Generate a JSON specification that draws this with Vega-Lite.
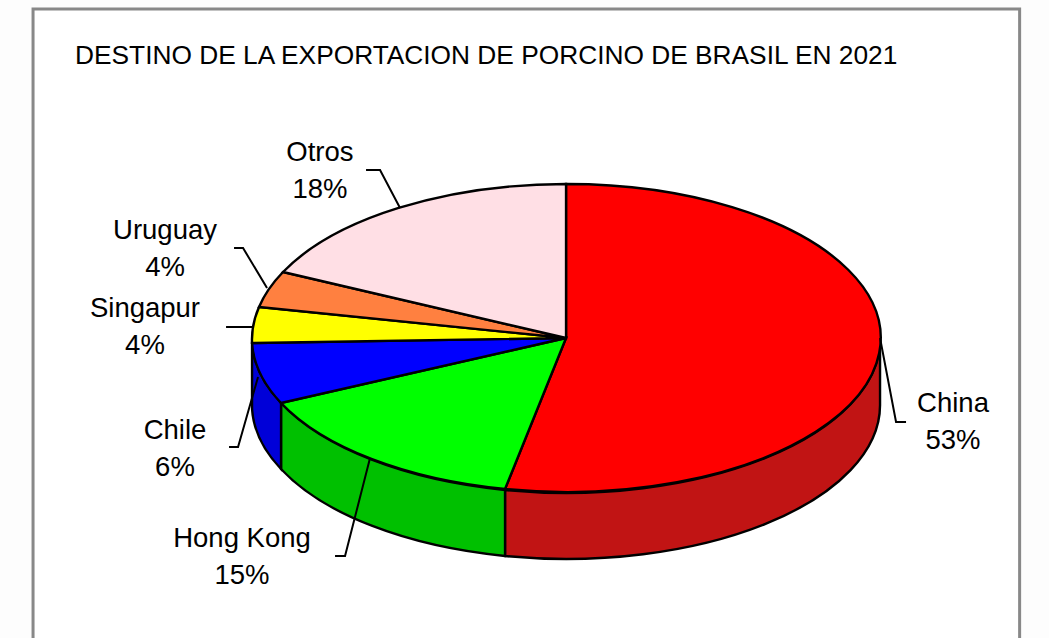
{
"$schema":"https://vega.github.io/schema/vega-lite/v6.json",
"width":1049,"height":638,"autosize":{"type":"none"},"padding":0,
"background":"#fdfdfd",
"config":{"view":{"stroke":null},"axis":{"disable":true},"text":{"font":"Liberation Sans"}},
"data":{"values":[
{"pais":"China","share":53},
{"pais":"Hong Kong","share":15},
{"pais":"Chile","share":6},
{"pais":"Singapur","share":4},
{"pais":"Uruguay","share":4},
{"pais":"Otros","share":18}
]},
"transform":[{"calculate":"datum.pais+'\\n'+datum.share+'%'","as":"etiqueta"}],
"resolve":{"scale":{"shape":"independent","color":"independent"}},
"layer":[
{"transform":[{"filter":"datum.pais==='China'"}],
 "mark":{"type":"rect","fill":"white","stroke":"#888888","strokeWidth":3},
 "encoding":{"x":{"datum":3.15,"type":"quantitative","scale":{"domain":[0,100],"nice":false,"zero":false}},"x2":{"datum":97.2},"y":{"datum":98.6,"type":"quantitative","scale":{"domain":[0,100],"nice":false,"zero":false}},"y2":{"datum":-5}}},
{"transform":[{"filter":"datum.pais==='China'||datum.pais==='Hong Kong'||datum.pais==='Chile'"}],
 "mark":{"type":"point","filled":true,"opacity":1,"stroke":"black","strokeWidth":2.4,"size":4},
 "encoding":{"x":{"datum":53.96,"type":"quantitative"},"y":{"datum":47.02,"type":"quantitative"},
  "color":{"field":"pais","type":"nominal","legend":null,"scale":{"domain":["China","Hong Kong","Chile"],"range":["#c11414","#00c000","#0000d8"]}},
  "shape":{"field":"pais","type":"nominal","legend":null,"scale":{"domain":["China","Hong Kong","Chile"],"range":[
   "M314,0 L314,66 A314,154 0 0 1 -61,218 L-61,152 A314,154 0 0 0 314,0 Z",
   "M-61,152 L-61,218 A314,154 0 0 1 -285,131 L-285,65 A314,154 0 0 0 -61,152 Z",
   "M-285,65 L-285,131 A314,154 0 0 1 -314,71 L-314,5 A314,154 0 0 0 -285,65 Z"]}}}},
{"mark":{"type":"point","filled":true,"opacity":1,"stroke":"black","strokeWidth":2.4,"size":4},
 "encoding":{"x":{"datum":53.96,"type":"quantitative"},"y":{"datum":47.02,"type":"quantitative"},
  "color":{"field":"pais","type":"nominal","legend":null,"scale":{"domain":["China","Hong Kong","Chile","Singapur","Uruguay","Otros"],"range":["#ff0000","#00ff00","#0000ff","#ffff00","#ff8040","#ffdfe5"]}},
  "shape":{"field":"pais","type":"nominal","legend":null,"scale":{"domain":["China","Hong Kong","Chile","Singapur","Uruguay","Otros"],"range":[
   "M0,0 L0,-154 A314,154 0 1 1 -61,151 Z",
   "M0,0 L-61,151 A314,154 0 0 1 -285,65 Z",
   "M0,0 L-285,65 A314,154 0 0 1 -314,5 Z",
   "M0,0 L-314,5 A314,154 0 0 1 -307,-31 Z",
   "M0,0 L-307,-31 A314,154 0 0 1 -283,-66 Z",
   "M0,0 L-283,-66 A314,154 0 0 1 0,-154 Z"]}}}},
{"mark":{"type":"point","filled":false,"opacity":1,"stroke":"black","strokeWidth":2,"size":4},
 "encoding":{"x":{"datum":53.96,"type":"quantitative"},"y":{"datum":47.02,"type":"quantitative"},
  "shape":{"field":"pais","type":"nominal","legend":null,"scale":{"domain":["China","Hong Kong","Chile","Singapur","Uruguay","Otros"],"range":[
   "M314,0 L330,84 L340,84",
   "M-196,120 L-221,218 L-231,218",
   "M-308,39 L-328,109 L-337,109",
   "M-314,-11 L-340,-11",
   "M-299,-50 L-323,-90 L-332,-90",
   "M-166,-130 L-186,-168 L-200,-168"]}}}},
{"transform":[{"filter":"datum.pais==='China'"}],"mark":{"type":"text","fontSize":27.5,"lineBreak":"\n","lineHeight":37,"align":"center","baseline":"middle","color":"black"},
 "encoding":{"x":{"datum":90.85,"type":"quantitative"},"y":{"datum":36.6,"type":"quantitative"},"text":{"field":"etiqueta"}}},
{"transform":[{"filter":"datum.pais==='Hong Kong'"}],"mark":{"type":"text","fontSize":27.5,"lineBreak":"\n","lineHeight":37,"align":"center","baseline":"middle","color":"black"},
 "encoding":{"x":{"datum":23.07,"type":"quantitative"},"y":{"datum":15.59,"type":"quantitative"},"text":{"field":"etiqueta"}}},
{"transform":[{"filter":"datum.pais==='Chile'"}],"mark":{"type":"text","fontSize":27.5,"lineBreak":"\n","lineHeight":37,"align":"center","baseline":"middle","color":"black"},
 "encoding":{"x":{"datum":16.68,"type":"quantitative"},"y":{"datum":32.52,"type":"quantitative"},"text":{"field":"etiqueta"}}},
{"transform":[{"filter":"datum.pais==='Singapur'"}],"mark":{"type":"text","fontSize":27.5,"lineBreak":"\n","lineHeight":37,"align":"center","baseline":"middle","color":"black"},
 "encoding":{"x":{"datum":13.82,"type":"quantitative"},"y":{"datum":51.64,"type":"quantitative"},"text":{"field":"etiqueta"}}},
{"transform":[{"filter":"datum.pais==='Uruguay'"}],"mark":{"type":"text","fontSize":27.5,"lineBreak":"\n","lineHeight":37,"align":"center","baseline":"middle","color":"black"},
 "encoding":{"x":{"datum":15.73,"type":"quantitative"},"y":{"datum":63.87,"type":"quantitative"},"text":{"field":"etiqueta"}}},
{"transform":[{"filter":"datum.pais==='Otros'"}],"mark":{"type":"text","fontSize":27.5,"lineBreak":"\n","lineHeight":37,"align":"center","baseline":"middle","color":"black"},
 "encoding":{"x":{"datum":30.5,"type":"quantitative"},"y":{"datum":76.09,"type":"quantitative"},"text":{"field":"etiqueta"}}},
{"transform":[{"filter":"datum.pais==='China'"}],"mark":{"type":"text","fontSize":26.3,"align":"left","baseline":"middle","color":"black","text":"DESTINO DE LA EXPORTACION DE PORCINO DE BRASIL EN 2021"},
 "encoding":{"x":{"datum":7.15,"type":"quantitative"},"y":{"datum":91.3,"type":"quantitative"}}}
]
}
